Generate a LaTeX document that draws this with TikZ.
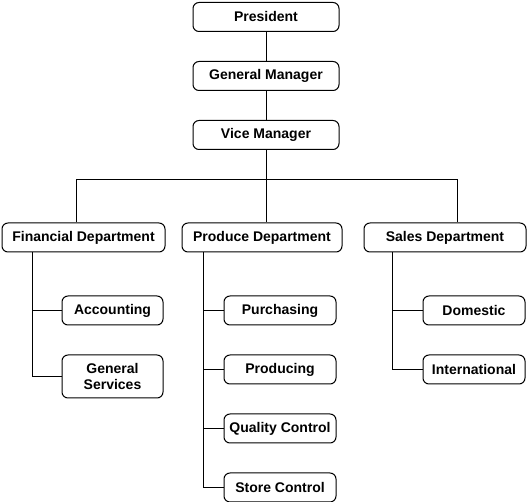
\documentclass[tikz,border=0pt]{standalone}
\usepackage{fontspec}
\setmainfont{Liberation Sans}

\begin{document}
\begin{tikzpicture}[x=1pt, y=-1pt, node distance=59pt, line width=1pt,
  box/.style={rectangle, draw, rounded corners=6pt, minimum height=29pt, inner sep=2pt,
    align=center, font=\fontsize{14}{16}\selectfont\bfseries}]
\useasboundingbox (0,0) rectangle (528,502);

\node (pres) [box, minimum width=146pt] at (266,17) {President};
\node (gm) [box, minimum width=146pt, below of=pres] {General Manager};
\node (vm) [box, minimum width=146pt, below of=gm] {Vice Manager};

\node (fin) [box, minimum width=163pt] at (83.5,237.5) {Financial Department};
\node (prod) [box, minimum width=160pt] at (262,237.5) {Produce Department};
\node (sales) [box, minimum width=162pt] at (445,237.5) {Sales Department};

\node (acc) [box, minimum width=101pt] at (112.5,310.5) {Accounting};
\node (gs) [box, minimum width=101pt, minimum height=43pt] at (112.5,376.5) {General\\Services};

\node (pur) [box, minimum width=112pt] at (280,310.5) {Purchasing};
\node (pcg) [box, minimum width=112pt, below of=pur] {Producing};
\node (qc) [box, minimum width=112pt, below of=pcg] {Quality Control};
\node (sc) [box, minimum width=112pt, below of=qc] {Store Control};

\node (dom) [box, minimum width=102pt] at (474,310.5) {Domestic};
\node (intl) [box, minimum width=102pt, below of=dom] {International};

\coordinate (bar) at (266,179.5);
\coordinate (fint) at ([xshift=31pt]fin.south west);
\coordinate (prodt) at ([xshift=22pt]prod.south west);
\coordinate (salest) at ([xshift=29pt]sales.south west);

\draw (pres) -- (gm);
\draw (gm) -- (vm);
\draw (vm) -- (bar);
\draw ([xshift=-7pt]fin.north) |- (bar) -| ([xshift=12pt]sales.north);
\draw (bar) -- (bar |- prod.north);

\draw (fint) |- (acc.west);
\draw (fint) |- (gs.west);
\draw (prodt) |- (pur.west);
\draw (prodt) |- (pcg.west);
\draw (prodt) |- (qc.west);
\draw (prodt) |- (sc.west);
\draw (salest) |- (dom.west);
\draw (salest) |- (intl.west);
\end{tikzpicture}
\end{document}
